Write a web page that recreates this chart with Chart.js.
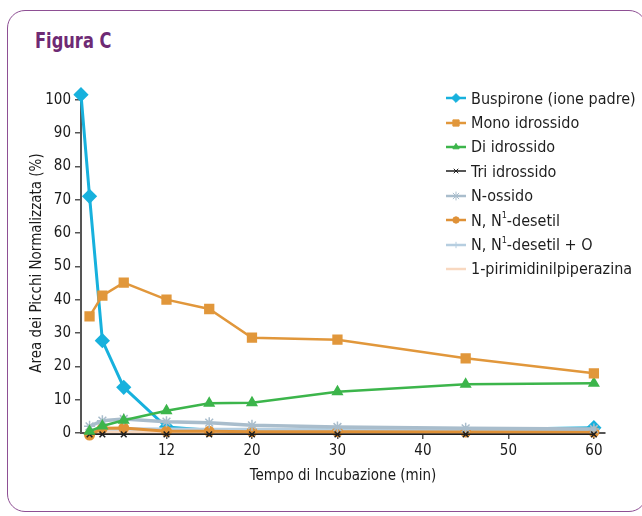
<!DOCTYPE html>
<html>
<head>
<meta charset="utf-8">
<script src="https://cdn.jsdelivr.net/npm/chart.js@4.4.0/dist/chart.umd.min.js"></script>
<style>
  html, body { margin: 0; padding: 0; background: #fff; }
  body { width: 642px; height: 516px; position: relative; overflow: hidden;
         font-family: "Liberation Sans Narrow", "DejaVu Sans Condensed", sans-serif; }
  #frame { position: absolute; left: 7px; top: 10px; width: 640px; height: 502px;
           border: 1.5px solid #8e4f94; border-radius: 18px; box-sizing: border-box; }
  #title { position: absolute; left: 35px; top: 29px; font-size: 21px; font-weight: bold; color: #6e2a74;
           transform: scaleX(0.86); transform-origin: left top; }
  #chartBox { position: absolute; left: 0; top: 0; width: 642px; height: 516px; }
  #legend { position: absolute; left: 446px; top: 86px; font-size: 16px; color: #1e1e1e; }
  #legend .row { height: 24.4px; display: flex; align-items: center; white-space: nowrap; }
  #legend canvas { margin-right: 5px; }
  #legend sup { font-size: 9px; position: relative; top: -1px; }
</style>
</head>
<body>
<div id="frame"></div>
<div id="title">Figura C</div>
<div id="chartBox"><canvas id="myChart" width="642" height="516"></canvas></div>
<div id="legend"></div>
<script>
// values
const timesBus = [0, 1, 2.5, 5, 10, 15, 20, 30, 45, 60];
const times = [1, 2.5, 5, 10, 15, 20, 30, 45, 60];

const buspirone = [101.5, 71, 27.7, 13.7, 1.8, 0.8, 0.8, 0.9, 1.0, 1.6];
const monoIdrossido = [35, 41.2, 45.1, 40, 37.2, 28.6, 28, 22.4, 17.9];
const diIdrossido = [0.5, 2.1, 3.8, 6.7, 8.9, 9.1, 12.4, 14.6, 14.9];
const triIdrossido = [-0.4, -0.4, -0.4, -0.4, -0.4, -0.4, -0.4, -0.4, -0.4];
const nOssido = [2.0, 3.7, 4.2, 3.4, 3.1, 2.3, 1.8, 1.4, 1.2];
const desetil = [-0.6, 1.4, 1.5, 0.5, 0.5, 0.4, 0.4, 0.3, 0.3];
const desetilO = [0.8, 1.2, 1.3, 1.2, 1.1, 1.1, 1.0, 1.0, 1.0];
const pirimidinil = [0.2, 0.4, 0.4, 0.3, 0.3, 0.3, 0.3, 0.3, 0.3];

const xTickValues = [10, 20, 30, 40, 50, 60];
const xTickLabels = ['12', '20', '30', '40', '50', '60'];
const yTickValues = [0, 10, 20, 30, 40, 50, 60, 70, 80, 90, 100];

const seriesNames = ['Buspirone (ione padre)', 'Mono idrossido', 'Di idrossido', 'Tri idrossido',
    'N-ossido', 'N, N¹-desetil', 'N, N¹-desetil + O', '1-pirimidinilpiperazina'];

function pts(xs, ys) {
    return ys.map((y, i) => ({x: xs[i], y: y}));
}

const font = "'Liberation Sans Narrow', 'DejaVu Sans Condensed', sans-serif";

const datasets = [
    // buspirone markers between 15 and 45 are covered by the other lines in the picture
    {label: seriesNames[0], data: pts(timesBus, buspirone), borderColor: '#17b1dd', backgroundColor: '#17b1dd',
        borderWidth: 3, pointStyle: 'rectRot', pointRadius: [5.5, 5.5, 5.5, 5.5, 5.5, 0, 0, 0, 0, 5.5], order: 1},
    {label: seriesNames[1], data: pts(times, monoIdrossido), borderColor: '#e1973b', backgroundColor: '#e1973b',
        borderWidth: 2.5, pointStyle: 'rect', pointRadius: 5.5},
    {label: seriesNames[2], data: pts(times, diIdrossido), borderColor: '#3cb54b', backgroundColor: '#3cb54b',
        borderWidth: 2.5, pointStyle: 'triangle', pointRadius: 4.5},
    {label: seriesNames[3], data: pts(times, triIdrossido), borderColor: '#1e1e1e', backgroundColor: '#1e1e1e',
        borderWidth: 1.5, pointStyle: 'crossRot', pointRadius: 4, pointBorderWidth: 1.5},
    {label: seriesNames[4], data: pts(times, nOssido), borderColor: '#a9bdcc', backgroundColor: '#a9bdcc',
        borderWidth: 3.5, pointStyle: 'star', pointRadius: 5.5, pointBorderWidth: 1.5},
    {label: seriesNames[5], data: pts(times, desetil), borderColor: '#df9137', backgroundColor: '#df9137',
        borderWidth: 3, pointStyle: 'circle', pointRadius: 4},
    {label: seriesNames[6], data: pts(times, desetilO), borderColor: '#b6cee0', backgroundColor: '#b6cee0',
        borderWidth: 3, pointStyle: 'cross', pointRadius: 4, pointBorderWidth: 1.5},
    {label: seriesNames[7], data: pts(times, pirimidinil), borderColor: '#f8d8c0', backgroundColor: '#f8d8c0',
        borderWidth: 3, pointRadius: 0}
];
datasets.forEach(d => { d.clip = false; d.tension = 0; d.fill = false; if (d.order === undefined) d.order = 0; });

const ctx = document.getElementById('myChart').getContext('2d');
let myChart = new Chart(ctx, {
    type: 'line',
    data: {datasets: datasets},
    options: {
        responsive: false,
        animation: false,
        layout: {padding: {left: 0, top: 93, right: 37, bottom: 0}},
        plugins: {legend: {display: false}, tooltip: {enabled: false}},
        scales: {
            x: {
                type: 'linear', min: 0, max: 61.3,
                afterBuildTicks: s => { s.ticks = xTickValues.map(v => ({value: v})); },
                afterFit: s => { s.height = 83; },
                ticks: {
                    color: '#1a1a1a', padding: 3, maxRotation: 0,
                    font: {family: font, size: 15},
                    callback: (v) => xTickLabels[xTickValues.indexOf(v)]
                },
                grid: {drawOnChartArea: false, drawTicks: true, tickLength: 6, color: '#555', lineWidth: 1.5},
                border: {display: true, color: '#555', width: 2},
                title: {display: true, text: 'Tempo di Incubazione (min)', color: '#1a1a1a',
                    font: {family: font, size: 15}, padding: {top: 0, bottom: 31}}
            },
            y: {
                type: 'linear', min: 0, max: 102,
                afterBuildTicks: s => { s.ticks = yTickValues.map(v => ({value: v})); },
                afterFit: s => { s.width = 81; },
                ticks: {color: '#1a1a1a', padding: 4, font: {family: font, size: 15}},
                grid: {drawOnChartArea: false, drawTicks: true, tickLength: 6, color: '#555', lineWidth: 1.5},
                border: {display: true, color: '#555', width: 2},
                title: {display: true, text: 'Area dei Picchi Normalizzata (%)', color: '#1a1a1a',
                    font: {family: font, size: 15}, padding: {top: 28, bottom: 0}}
            }
        }
    }
});

// html legend built from the datasets
const legend = document.getElementById('legend');
datasets.forEach(d => {
    const row = document.createElement('div');
    row.className = 'row';
    const c = document.createElement('canvas');
    c.width = 20; c.height = 14;
    const g = c.getContext('2d');
    g.strokeStyle = d.borderColor;
    g.fillStyle = d.backgroundColor;
    g.lineWidth = Math.min(d.borderWidth, 2.5);
    g.beginPath(); g.moveTo(0, 7); g.lineTo(20, 7); g.stroke();
    const r = Array.isArray(d.pointRadius) ? d.pointRadius[0] : d.pointRadius;
    if (r > 0) {
        const thin = ['star', 'cross', 'crossRot'].includes(d.pointStyle);
        g.lineWidth = thin ? 1 : 1;
        Chart.helpers.drawPoint(g, {pointStyle: d.pointStyle, radius: r * 0.8,
            borderWidth: 1, rotation: 0}, 10, 7);
    }
    row.appendChild(c);
    const t = document.createElement('span');
    t.innerHTML = d.label.replace('¹', '<sup>1</sup>');
    row.appendChild(t);
    legend.appendChild(row);
});
</script>
</body>
</html>
